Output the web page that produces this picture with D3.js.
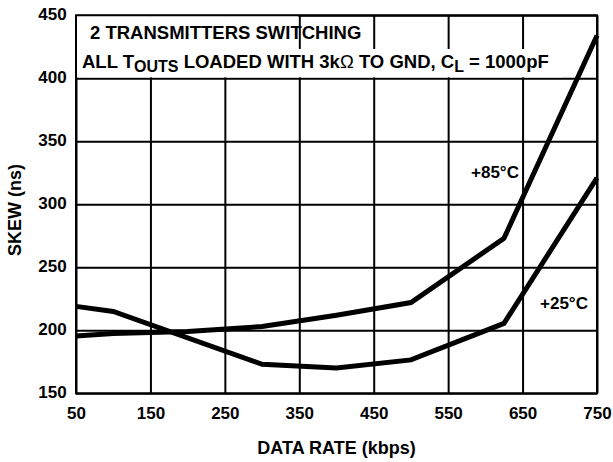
<!DOCTYPE html>
<html>
<head>
<meta charset="utf-8">
<script src="https://cdn.jsdelivr.net/npm/d3@7"></script>
<style>
  body { margin: 0; background: #fff; }
  text { font-family: "Liberation Sans", Arial, sans-serif; font-weight: bold; fill: #000; }
</style>
</head>
<body>
<script>
// data
const rate85 = [50, 100, 200, 300, 400, 500, 625, 750];
const skew85 = [195.5, 197.5, 199, 203, 212, 222, 273, 434];
const rate25 = [50, 100, 300, 400, 500, 625, 750];
const skew25 = [219, 215, 173, 170, 176.5, 205.5, 321];
const xTicks = [50, 150, 250, 350, 450, 550, 650, 750];
const yTicks = [150, 200, 250, 300, 350, 400, 450];

const width = 613;
const height = 462;
const plotL = 76, plotR = 597, plotT = 15.3, plotB = 393.3;

const svg = d3.select("body").append("svg")
    .attr("width", width)
    .attr("height", height);

const x = d3.scaleLinear().domain([50, 750]).range([plotL, plotR]);
const y = d3.scaleLinear().domain([150, 450]).range([plotB, plotT]);

// grid + tick labels
const xAxis = svg.append("g")
    .attr("transform", "translate(0," + plotB + ")")
    .call(d3.axisBottom(x).tickValues(xTicks).tickSize(-(plotB - plotT)).tickPadding(13.7).tickFormat(d3.format("d")));
const yAxis = svg.append("g")
    .attr("transform", "translate(" + plotL + ",0)")
    .call(d3.axisLeft(y).tickValues(yTicks).tickSize(-(plotR - plotL)).tickPadding(9.3).tickFormat(d3.format("d")));

[xAxis, yAxis].forEach(g => {
  g.select(".domain").remove();
  g.selectAll(".tick line").attr("stroke", "#000").attr("stroke-width", 2);
  g.selectAll(".tick text").style("font-size", "17px").attr("font-family", null);
});
yAxis.selectAll(".tick text").attr("dy", "0.26em");

svg.append("rect")
    .attr("x", plotL).attr("y", plotT)
    .attr("width", plotR - plotL).attr("height", plotB - plotT)
    .attr("fill", "none").attr("stroke", "#000").attr("stroke-width", 2);

// note box over the grid
svg.append("rect")
    .attr("x", plotL + 1).attr("y", plotT + 1)
    .attr("width", x(350) - 1 - (plotL + 1)).attr("height", 49 - (plotT + 1))
    .attr("fill", "#fff");
svg.append("rect")
    .attr("x", plotL + 1).attr("y", 49)
    .attr("width", 562 - (plotL + 1)).attr("height", y(400) - 1 - 49)
    .attr("fill", "#fff");

svg.append("text")
    .attr("x", 90).attr("y", 39)
    .style("font-size", "18.5px")
    .text("2 TRANSMITTERS SWITCHING");

const note = svg.append("text")
    .attr("x", 82).attr("y", 68)
    .style("font-size", "18.5px");
note.append("tspan").text("ALL T");
note.append("tspan").attr("dy", 4).style("font-size", "16px").text("OUTS");
note.append("tspan").attr("dy", -4).text(" LOADED WITH 3k");
note.append("tspan").style("font-weight", "normal").text("\u03A9");
note.append("tspan").text(" TO GND, C");
note.append("tspan").attr("dy", 4).style("font-size", "16px").text("L");
note.append("tspan").attr("dy", -4).text(" = 1000pF");

// curves
const line = d3.line()
    .x(d => x(d[0]))
    .y(d => y(d[1]));

svg.append("path")
    .datum(d3.zip(rate85, skew85))
    .attr("d", line)
    .attr("fill", "none")
    .attr("stroke", "#000")
    .attr("stroke-width", 5)
    .attr("stroke-linejoin", "miter");

svg.append("path")
    .datum(d3.zip(rate25, skew25))
    .attr("d", line)
    .attr("fill", "none")
    .attr("stroke", "#000")
    .attr("stroke-width", 5)
    .attr("stroke-linejoin", "miter");

svg.append("text")
    .attr("x", 471).attr("y", 178)
    .style("font-size", "17px")
    .text("+85\u00B0C");
svg.append("text")
    .attr("x", 540).attr("y", 309)
    .style("font-size", "17px")
    .text("+25\u00B0C");

// axis titles
svg.append("text")
    .attr("x", (plotL + plotR) / 2).attr("y", 454)
    .attr("text-anchor", "middle")
    .style("font-size", "18px")
    .text("DATA RATE (kbps)");
svg.append("text")
    .attr("transform", "translate(21,210) rotate(-90)")
    .attr("text-anchor", "middle")
    .style("font-size", "18px")
    .text("SKEW (ns)");
</script>
</body>
</html>
